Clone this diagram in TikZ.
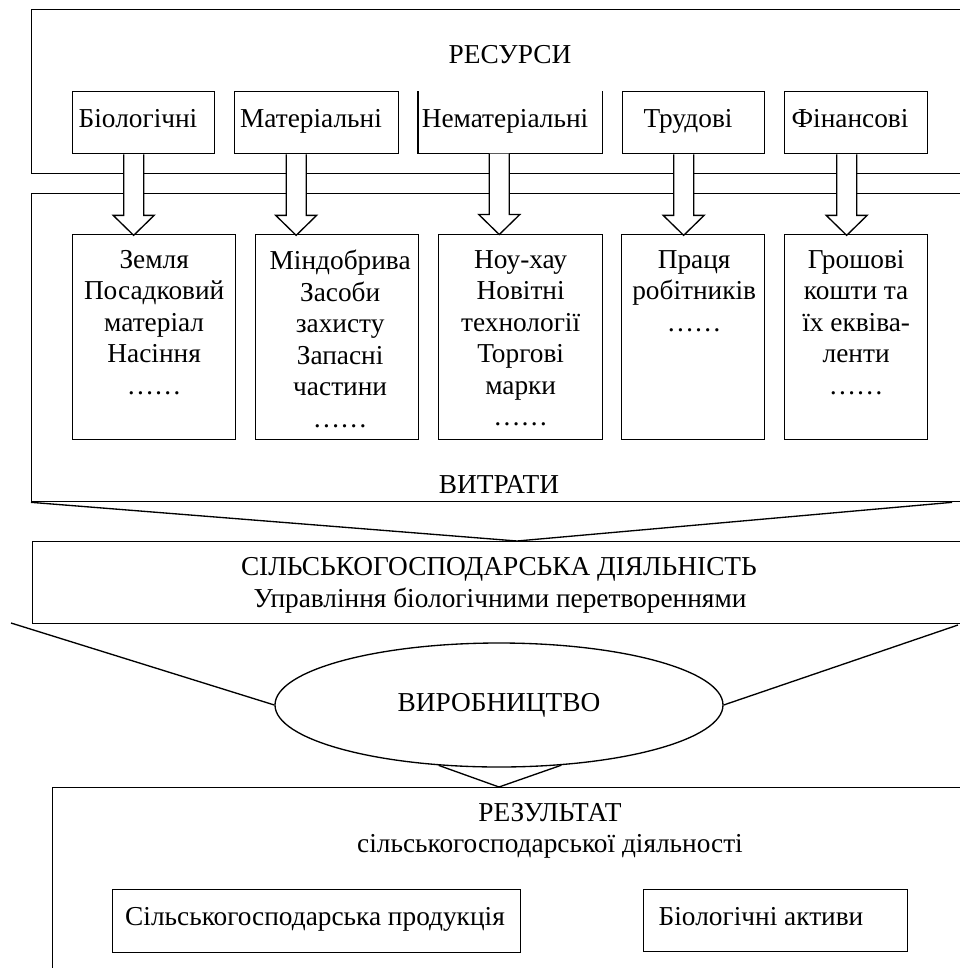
\documentclass[tikz,border=0pt]{standalone}
\usepackage{fontspec}
\setmainfont{Liberation Serif}
\usetikzlibrary{shapes.geometric,calc}
\newcommand\pxu{0.75pt}
\begin{document}
\begin{tikzpicture}[x=0.75pt,y=-0.75pt,
  every node/.style={font=\fontsize{20.5}{23.6}\selectfont, inner sep=0pt},
  frame/.style={draw, line width=1pt, anchor=north west, inner sep=0pt},
  lbl/.style={anchor=base},
  ctext/.style={align=center, anchor=north},
  blk/.style={draw, line width=1pt, fill=white, line join=miter},
  ln/.style={line width=1pt}]
\useasboundingbox (0,0) rectangle (960,968);
\clip (0,0) rectangle (960,968);

% ---------- big frames ----------
\node[frame, minimum width=969*\pxu, minimum height=164*\pxu] (resF) at (31,9) {};
\node[lbl] (resL) at (510,63) {РЕСУРСИ};
\node[frame, minimum width=969*\pxu, minimum height=308*\pxu] (vit) at (31,193) {};
\node[lbl] (vitL) at (499,493) {ВИТРАТИ};

% ---------- resource boxes ----------
\node[frame, minimum width=142*\pxu, minimum height=62*\pxu] (bio) at (72,91) {};
\node[lbl] (bioL) at (138,127) {Біологічні};
\node[frame, minimum width=164*\pxu, minimum height=62*\pxu] (mat) at (234,91) {};
\node[lbl] (matL) at (311,127) {Матеріальні};
\node[anchor=north west, minimum width=184*\pxu, minimum height=62*\pxu] (nem) at (418,91) {};
\draw[ln] (nem.north west) -- (nem.south west) -- (nem.south east) -- (nem.north east);
\node[lbl] (nemL) at (505,127) {Нематеріальні};
\node[frame, minimum width=142*\pxu, minimum height=62*\pxu] (tru) at (622,91) {};
\node[lbl] (truL) at (688,127) {Трудові};
\node[frame, minimum width=143*\pxu, minimum height=62*\pxu] (fin) at (784,91) {};
\node[lbl] (finL) at (850,127) {Фінансові};

% ---------- cost boxes ----------
\node[frame, minimum width=163*\pxu, minimum height=205*\pxu] (c1) at (72,234) {};
\node[frame, minimum width=163*\pxu, minimum height=205*\pxu] (c2) at (255,234) {};
\node[frame, minimum width=164*\pxu, minimum height=205*\pxu] (c3) at (438,234) {};
\node[frame, minimum width=143*\pxu, minimum height=205*\pxu] (c4) at (621,234) {};
\node[frame, minimum width=143*\pxu, minimum height=205*\pxu] (c5) at (784,234) {};
\node[ctext] (c1t) at ($(c1.north)+(0,16)$) {Земля\\Посадковий\\матеріал\\Насіння\\……};
\node[ctext] (c2t) at ($(c2.north)+(3,16)$) {Міндобрива\\Засоби\\захисту\\Запасні\\частини\\……};
\node[ctext] (c3t) at ($(c3.north)+(0,16)$) {Ноу-хау\\Новітні\\технології\\Торгові\\марки\\……};
\node[ctext] (c4t) at ($(c4.north)+(1,16)$) {Праця\\робітників\\……};
\node[ctext] (c5t) at ($(c5.north)+(0,16)$) {Грошові\\кошти та\\їх еквіва-\\ленти\\……};

% ---------- block arrows ----------
\foreach \b/\c/\o in {bio/c1/-10, mat/c2/-20.5, nem/c3/-11, tru/c4/-10, fin/c5/-9.5}{
  \draw[blk] ($(\b.south)+(\o-10,0)$) -- ++(0,61) -- ++(-10.5,0) -- ++(20.5,20)
     -- ++(20.5,-20) -- ++(-10.5,0) -- ++(0,-61);
}

% ---------- activity ----------
\node[frame, minimum width=968*\pxu, minimum height=82*\pxu] (act) at (32,541) {};
\node[lbl] (actL1) at (499,575) {СІЛЬСЬКОГОСПОДАРСЬКА ДІЯЛЬНІСТЬ};
\node[lbl] (actL2) at (500,607) {Управління біологічними перетвореннями};
\draw[ln] (vit.south west) -- ($(act.north west)+(485,0)$) -- ($(vit.south west)+(921,0)$);

% ---------- production ----------
\node[draw, ellipse, line width=1pt, minimum width=448*\pxu, minimum height=124*\pxu] (ell) at (499,705) {\raisebox{-1.8pt}{ВИРОБНИЦТВО}};
\coordinate (lf1) at (11,623);
\coordinate (lf2) at (958,625);
\draw[ln] (lf1) -- (ell.west);
\draw[ln] (lf2) -- (ell.east);

% ---------- result ----------
\node[frame, minimum width=948*\pxu, minimum height=250*\pxu] (rz) at (52,787) {};
\node[lbl] (rzL1) at (550,821) {РЕЗУЛЬТАТ};
\node[lbl] (rzL2) at (550,852) {сільськогосподарської діяльності};
\draw[ln] (ell.-135.5) -- (ell.south |- rz.north) -- (ell.-44.5);
\node[frame, minimum width=408*\pxu, minimum height=63*\pxu] (p1) at (112,889) {};
\node[lbl] (p1L) at (315,925) {Сільськогосподарська продукція};
\node[frame, minimum width=264*\pxu, minimum height=62*\pxu] (p2) at (643,889) {};
\node[lbl] (p2L) at (761,925) {Біологічні активи};
\end{tikzpicture}
\end{document}
